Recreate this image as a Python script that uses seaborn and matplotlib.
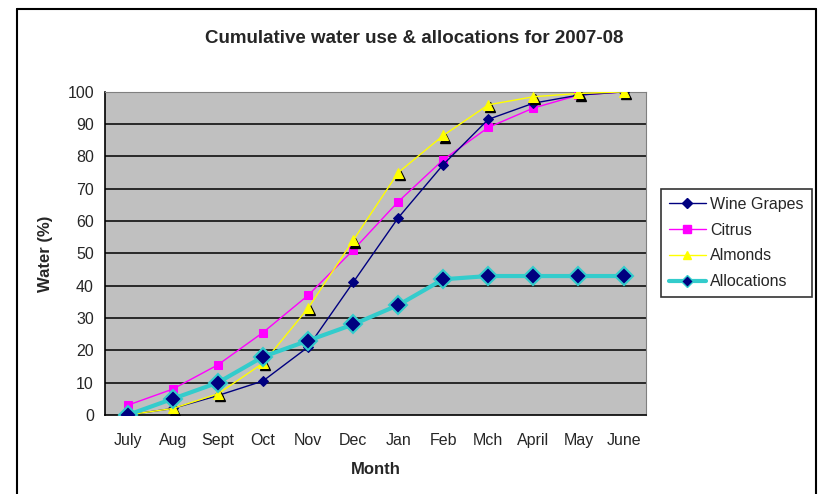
import matplotlib
matplotlib.use("Agg")
import matplotlib.pyplot as plt
import matplotlib.transforms as mtransforms
from matplotlib.lines import Line2D
import numpy as np
import pandas as pd
import seaborn as sns

months = ["July", "Aug", "Sept", "Oct", "Nov", "Dec", "Jan", "Feb", "Mch", "April", "May", "June"]
wine_grapes = [0, 2, 6, 10.5, 21, 41, 61, 77.5, 91.5, 96.5, 99, 100]
citrus = [3, 8, 15.5, 25.5, 37, 51, 66, 79, 89, 95, 99, 100]
almonds = [0, 2, 6.5, 16, 33, 54, 75, 86.5, 96, 98.5, 99.5, 100]
allocations = [0, 5, 10, 18, 23, 28, 34, 42, 43, 43, 43, 43]
y_ticks = list(range(0, 101, 10))

sns.set_style("white")
plt.rcParams["font.family"] = ["Liberation Sans", "DejaVu Sans"]

fig = plt.figure(figsize=(8.21, 4.94), dpi=100)
ax = fig.add_axes([0.128, 0.160, 0.659, 0.654])
ax.set_facecolor("#C0C0C0")

x = np.arange(len(months))
df = pd.DataFrame({"x": x, "wine": wine_grapes, "citrus": citrus,
                   "almonds": almonds, "alloc": allocations})

for yv in y_ticks[1:]:
    ax.axhline(yv, color="black", lw=1.1, zorder=1)

sns.lineplot(data=df, x="x", y="wine", ax=ax, color="#000080", lw=1,
             marker="D", markersize=5, markeredgecolor="#000080", zorder=4)
sns.lineplot(data=df, x="x", y="citrus", ax=ax, color="#FF00FF", lw=1,
             marker="s", markersize=6, markeredgecolor="#FF00FF", zorder=3)
# black shadow for the almond triangles
shadow = mtransforms.offset_copy(ax.transData, fig=fig, x=1.5, y=-1.5, units="points")
ax.plot(x, almonds, ls="none", marker="^", markersize=7, color="black",
        transform=shadow, zorder=4)
sns.lineplot(data=df, x="x", y="almonds", ax=ax, color="#FFFF00", lw=1,
             marker="^", markersize=7, markeredgecolor="#FFFF00", zorder=5)
sns.lineplot(data=df, x="x", y="alloc", ax=ax, color="#33CCCC", lw=3,
             marker="D", markersize=9, markerfacecolor="#000080",
             markeredgecolor="#33CCCC", markeredgewidth=1.5, zorder=6)

ax.set_xlim(-0.5, len(months) - 0.5)
ax.set_ylim(0, 100)
ax.set_xticks(x)
ax.set_xticklabels(months)
ax.set_xticks(np.arange(-0.5, len(months)), minor=True)
ax.tick_params(axis="x", which="major", length=0, pad=13, labelsize=11.5)
ax.tick_params(axis="x", which="minor", length=5, direction="out", width=1, color="black")
ax.set_yticks(y_ticks)
ax.tick_params(axis="y", length=5, direction="out", width=1, color="black", labelsize=11.5, pad=3)
for side in ["top", "right"]:
    ax.spines[side].set_color("#808080")
for side in ["left", "bottom"]:
    ax.spines[side].set_color("black")
    ax.spines[side].set_linewidth(1.2)

ax.set_xlabel("Month", fontsize=12, fontweight="bold", labelpad=10)
ax.set_ylabel("Water (%)", fontsize=12, fontweight="bold", labelpad=10)
fig.text(0.505, 0.922, "Cumulative water use & allocations for 2007-08",
         ha="center", va="center", fontsize=13.5, fontweight="bold")

handles = [
    Line2D([], [], color="#000080", lw=1, marker="D", markersize=5),
    Line2D([], [], color="#FF00FF", lw=1, marker="s", markersize=6),
    Line2D([], [], color="#FFFF00", lw=1, marker="^", markersize=6),
    Line2D([], [], color="#33CCCC", lw=3, marker="D", markersize=6,
           markerfacecolor="#000080", markeredgecolor="#33CCCC"),
]
leg = fig.legend(handles, ["Wine Grapes", "Citrus", "Almonds", "Allocations"],
                 loc="center left", bbox_to_anchor=(0.805, 0.508), fontsize=11.5,
                 frameon=True, fancybox=False, edgecolor="black", handlelength=2.3,
                 borderpad=0.5, labelspacing=0.68, handletextpad=0.3,
                 borderaxespad=0)
leg.get_frame().set_linewidth(1.2)

# outer chart frame
fig.add_artist(Line2D([0.021, 0.021], [0, 0.982], color="black", lw=1.5, transform=fig.transFigure))
fig.add_artist(Line2D([0.021, 0.994], [0.982, 0.982], color="black", lw=1.5, transform=fig.transFigure))
fig.add_artist(Line2D([0.994, 0.994], [0, 0.982], color="black", lw=1.5, transform=fig.transFigure))

fig.savefig("out.png", dpi=100)
